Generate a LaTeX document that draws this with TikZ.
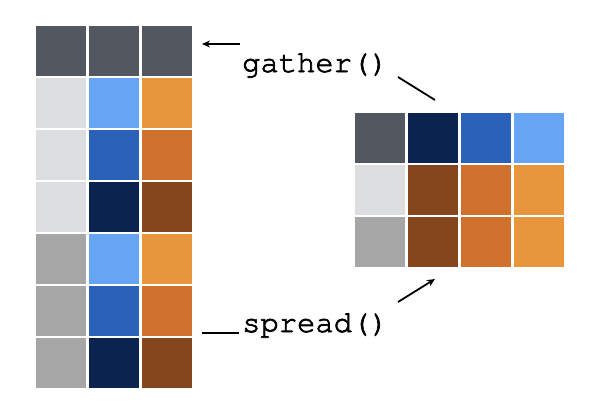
\documentclass[tikz,border=0pt]{standalone}
\usepackage{fontspec}
\usetikzlibrary{arrows.meta}

\definecolor{dg}{HTML}{535860}
\definecolor{lg}{HTML}{DCDDDF}
\definecolor{mg}{HTML}{A5A6A5}
\definecolor{lb}{HTML}{66A5F3}
\definecolor{mb}{HTML}{2A62BA}
\definecolor{nb}{HTML}{0B234F}
\definecolor{lo}{HTML}{E7963B}
\definecolor{mo}{HTML}{D0712E}
\definecolor{br}{HTML}{84471D}

\newcommand{\heavytt}[1]{\special{pdf:literal direct 2 Tr 0.7 w}#1\special{pdf:literal direct 0 Tr}}

\tikzset{
  cell/.style={draw=none,inner sep=0pt,minimum size=49.5pt,anchor=north west},
  fn/.style={font=\fontencoding{T1}\fontfamily{pcr}\fontsize{30.5}{36}\selectfont,inner sep=0pt,anchor=base west},
  link/.style={line width=1.8pt},
}

\begin{document}
\begin{tikzpicture}[x=1pt,y=-1pt]
\useasboundingbox (0,0) rectangle (602,420);

% long table
\foreach \row [count=\j from 0] in {{dg,dg,dg},{lg,lb,lo},{lg,mb,mo},{lg,nb,br},{mg,lb,lo},{mg,mb,mo},{mg,nb,br}}
{
\foreach \c [count=\i from 0] in \row
{
\node[cell,fill=\c] (l\j\i) at ({36+53*\i},{26+52*\j}) {};
}
}

% wide table
\foreach \row [count=\j from 0] in {{dg,nb,mb,lb},{lg,br,mo,lo},{mg,br,mo,lo}}
{
\foreach \c [count=\i from 0] in \row
{
\node[cell,fill=\c] (w\j\i) at ({355+53*\i},{113+52*\j}) {};
}
}

\node[fn] (gather) at (242,72) {\heavytt{gather()}};
\node[fn] (spread) at (242,332) {\heavytt{spread()}};

\coordinate (g0) at (435,100);
\coordinate (g1) at (398,77);
\coordinate (g2) at (240,44);
\coordinate (g3) at (202,44);
\coordinate (s0) at (202,333);
\coordinate (s1) at (239,333);
\coordinate (s2) at (398,302);
\coordinate (s3) at (435,279);

\draw[link] (g0)--(g1);
\draw[link,-{Stealth[length=8pt,width=7pt]}] (g2)--(g3);
\draw[link] (s0)--(s1);
\draw[link,-{Stealth[length=8pt,width=7pt]}] (s2)--(s3);
\end{tikzpicture}
\end{document}
